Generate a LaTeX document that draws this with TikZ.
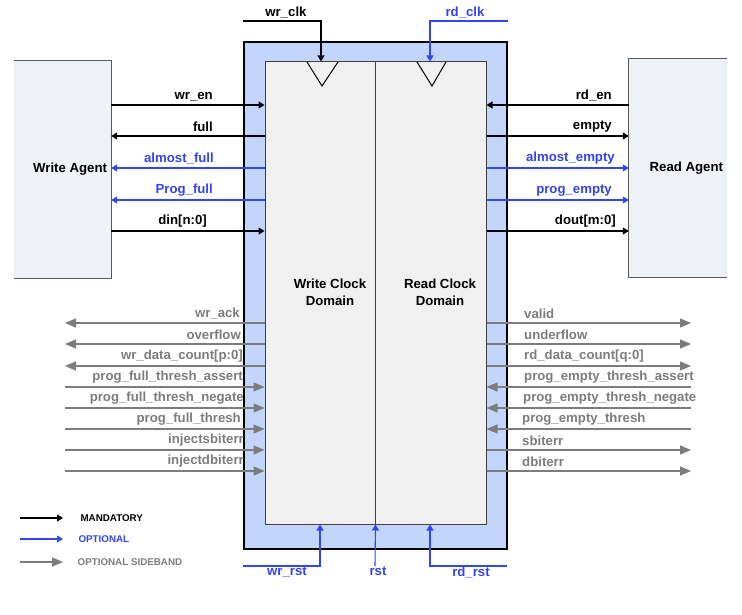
\documentclass[tikz,border=0pt]{standalone}
\usepackage{fontspec}
\setmainfont{Liberation Sans}
\usetikzlibrary{arrows.meta,positioning}

\definecolor{optblue}{HTML}{3344F2}
\definecolor{sidegray}{HTML}{7C7C7C}
\definecolor{framebl}{HTML}{C2D5FA}
\definecolor{domgray}{HTML}{F0F0F0}
\definecolor{agentbg}{HTML}{EEF1F6}

\newcommand{\sigfont}{\fontsize{13.2}{15}\selectfont\bfseries}
\newcommand{\domfont}{\fontsize{13.2}{17}\selectfont\bfseries}
\newcommand{\legfont}{\fontsize{9.8}{11}\selectfont\bfseries}

\begin{document}
\begin{tikzpicture}[x=1pt, y=-1pt,
    mand/.style={line width=1.1pt, black, -{Triangle[length=6pt,width=7pt]}},
    opt/.style={line width=1.1pt, optblue, -{Triangle[length=6pt,width=7pt]}},
    side/.style={line width=1.3pt, sidegray, -{Triangle[length=11pt,width=9pt]}},
    sig/.style={font=\sigfont, inner sep=0pt},
    legend/.style={font=\legfont, inner sep=0pt},
    clkdomain/.style={draw=black!75, line width=1pt, fill=domgray, inner sep=0pt},
    agentedge/.style={draw=black!65, line width=1.2pt}]

  \useasboundingbox (0,0) rectangle (742,615);

  % FIFO frame and the two clock domains
  \node[draw=black, line width=1.2pt, fill=framebl, minimum width=263pt,
        minimum height=507pt, inner sep=0pt] (fifo) at (375.5,295.5) {};
  \node[clkdomain, minimum width=110pt, minimum height=462pt] (wdom) at (320,293) {};
  \node[clkdomain, minimum width=111pt, minimum height=462pt] (rdom) at (430.5,293) {};
  \node[font=\domfont, align=center] (wdomtxt) at (330,292) {Write Clock\\Domain};
  \node[font=\domfont, align=center] (rdomtxt) at (440,292) {Read Clock\\Domain};

  % Clock symbols
  \draw[line width=1pt] (307,62) -- (322,86) -- (338,62);
  \draw[line width=1pt] (417,62) -- (432,86) -- (446,62);

  % Agents
  \node[fill=agentbg, minimum width=97pt, minimum height=217pt, inner sep=0pt] (wagent) at (62.5,169.5) {};
  \draw[agentedge] (wagent.north west) -- (wagent.north east) -- (wagent.south east) -- (wagent.south west);
  \node[sig, left=4pt of wagent.east] (wagtxt) {Write Agent};
  \node[fill=agentbg, minimum width=98pt, minimum height=218pt, inner sep=0pt] (ragent) at (678,168) {};
  \draw[agentedge] (ragent.north east) -- (ragent.north west) -- (ragent.south west) -- (ragent.south east);
  \node[sig, left=4pt of ragent.east] (ragtxt) {Read Agent};

  % Clock inputs
  \coordinate (wclk) at (243,21);
  \coordinate (rclk) at (508,21);
  \draw[mand] (wclk) -| (wdom.north -| 321,0);
  \draw[opt] (rclk) -| (rdom.north -| 430,0);
  \node[sig, anchor=south] (wclktxt) at (286,18) {wr\_clk};
  \node[sig, anchor=south, optblue] (rclktxt) at (465,18) {rd\_clk};

  % Write side signals
  \draw[mand] (wagent.east |- 0,105) -- (wdom.west |- 0,105);
  \draw[mand] (wdom.west |- 0,136) -- (wagent.east |- 0,136);
  \draw[opt] (wdom.west |- 0,168) -- (wagent.east |- 0,168);
  \draw[opt] (wdom.west |- 0,200) -- (wagent.east |- 0,200);
  \draw[mand] (wagent.east |- 0,231) -- (wdom.west |- 0,231);
  \node[sig, anchor=south east] at (213,101) {wr\_en};
  \node[sig, anchor=south east] at (213,132) {full};
  \node[sig, anchor=south east, optblue] at (214,164) {almost\_full};
  \node[sig, anchor=south east, optblue] at (213,196) {Prog\_full};
  \node[sig, anchor=south east] at (207,227) {din[n:0]};

  % Read side signals
  \draw[mand] (ragent.west |- 0,105) -- (rdom.east |- 0,105);
  \draw[mand] (rdom.east |- 0,136) -- (ragent.west |- 0,136);
  \draw[opt] (rdom.east |- 0,168) -- (ragent.west |- 0,168);
  \draw[opt] (rdom.east |- 0,200) -- (ragent.west |- 0,200);
  \draw[mand] (rdom.east |- 0,231) -- (ragent.west |- 0,231);
  \node[sig, anchor=south east] at (612,101) {rd\_en};
  \node[sig, anchor=south east] at (612,132) {empty};
  \node[sig, anchor=south east, optblue] at (615,164) {almost\_empty};
  \node[sig, anchor=south east, optblue] at (612,196) {prog\_empty};
  \node[sig, anchor=south east] at (616,227) {dout[m:0]};

  % Write side sideband
  \coordinate (sbl) at (65,0);
  \draw[side] (wdom.west |- 0,323) -- (sbl |- 0,323);
  \draw[side] (wdom.west |- 0,344) -- (sbl |- 0,344);
  \draw[side] (wdom.west |- 0,366) -- (sbl |- 0,366);
  \draw[side] (sbl |- 0,387) -- (wdom.west |- 0,387);
  \draw[side] (sbl |- 0,408) -- (wdom.west |- 0,408);
  \draw[side] (sbl |- 0,429) -- (wdom.west |- 0,429);
  \draw[side] (sbl |- 0,450) -- (wdom.west |- 0,450);
  \draw[side] (sbl |- 0,471) -- (wdom.west |- 0,471);
  \node[sig, anchor=south east, sidegray] at (240,319) {wr\_ack};
  \node[sig, anchor=south east, sidegray] at (241,340) {overflow};
  \node[sig, anchor=south east, sidegray] at (243,362) {wr\_data\_count[p:0]};
  \node[sig, anchor=south east, sidegray] at (243,383) {prog\_full\_thresh\_assert};
  \node[sig, anchor=south east, sidegray] at (244,404) {prog\_full\_thresh\_negate};
  \node[sig, anchor=south east, sidegray] at (241,425) {prog\_full\_thresh};
  \node[sig, anchor=south east, sidegray] at (244,446) {injectsbiterr};
  \node[sig, anchor=south east, sidegray] at (244,467) {injectdbiterr};

  % Read side sideband
  \coordinate (sbr) at (691,0);
  \draw[side] (rdom.east |- 0,323) -- (sbr |- 0,323);
  \draw[side] (rdom.east |- 0,344) -- (sbr |- 0,344);
  \draw[side] (rdom.east |- 0,366) -- (sbr |- 0,366);
  \draw[side] (sbr |- 0,387) -- (rdom.east |- 0,387);
  \draw[side] (sbr |- 0,408) -- (rdom.east |- 0,408);
  \draw[side] (sbr |- 0,429) -- (rdom.east |- 0,429);
  \draw[side] (rdom.east |- 0,450) -- (sbr |- 0,450);
  \draw[side] (rdom.east |- 0,471) -- (sbr |- 0,471);
  \node[sig, anchor=south west, sidegray] at (524,319) {valid};
  \node[sig, anchor=south west, sidegray] at (524,340) {underflow};
  \node[sig, anchor=south west, sidegray] at (524,362) {rd\_data\_count[q:0]};
  \node[sig, anchor=south west, sidegray] at (524,383) {prog\_empty\_thresh\_assert};
  \node[sig, anchor=south west, sidegray] at (523,404) {prog\_empty\_thresh\_negate};
  \node[sig, anchor=south west, sidegray] at (522,425) {prog\_empty\_thresh};
  \node[sig, anchor=south west, sidegray] at (522,446) {sbiterr};
  \node[sig, anchor=south west, sidegray] at (522,467) {dbiterr};

  % Resets
  \coordinate (wrst) at (243,566);
  \coordinate (rst) at (375,566);
  \coordinate (rrst) at (507,566);
  \draw[opt] (wrst) -| (wdom.south -| 320,0);
  \draw[opt] (rst) -- (wdom.south east);
  \draw[opt] (rrst) -| (rdom.south -| 430,0);
  \node[sig, anchor=north, optblue] (wrsttxt) at (287,567) {wr\_rst};
  \node[sig, anchor=north, optblue] (rsttxt) at (378,567) {rst};
  \node[sig, anchor=north, optblue] (rrsttxt) at (471,567) {rd\_rst};

  % Legend
  \coordinate (lgm) at (20,518);
  \coordinate (lgo) at (20,539);
  \coordinate (lgs) at (20,562);
  \draw[mand] (lgm) -- ++(43,0) node[legend, right=17pt] (lgmtxt) {MANDATORY};
  \draw[opt] (lgo) -- ++(43,0) node[legend, right=15pt, optblue] (lgotxt) {OPTIONAL};
  \draw[side] (lgs) -- ++(43,0) node[legend, right=14pt, sidegray] (lgstxt) {OPTIONAL SIDEBAND};
\end{tikzpicture}
\end{document}
